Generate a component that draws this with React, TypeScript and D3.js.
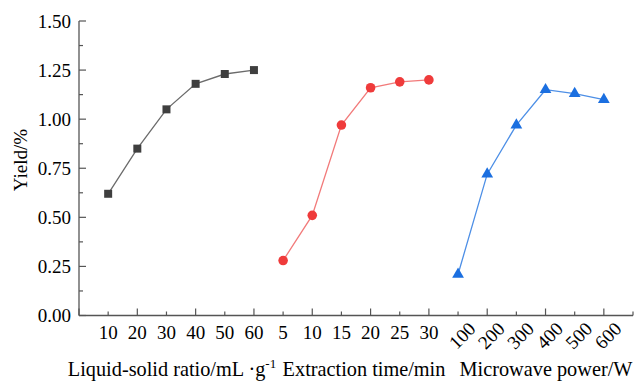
import React, { useEffect, useRef } from 'react';
import * as d3 from 'd3';

// categorias dos três grupos
const ratioLabels = ['10', '20', '30', '40', '50', '60'];
const timeLabels = ['5', '10', '15', '20', '25', '30'];
const powerLabels = ['100', '200', '300', '400', '500', '600'];

// rendimento (%)
const ratioYield = [0.62, 0.85, 1.05, 1.18, 1.23, 1.25];
const timeYield = [0.28, 0.51, 0.97, 1.16, 1.19, 1.2];
const powerYield = [0.21, 0.72, 0.97, 1.15, 1.13, 1.1];

const yTicks = [0, 0.25, 0.5, 0.75, 1.0, 1.25, 1.5];

const axisTitles = ['Liquid-solid ratio/mL \u00b7g', 'Extraction time/min', 'Microwave power/W'];

const App = () => {
  const svgRef = useRef<SVGSVGElement>(null);

  useEffect(() => {
    if (!svgRef.current) return;
    const svg = d3.select(svgRef.current);
    svg.selectAll('*').remove();

    const font = '"Liberation Serif", "Times New Roman", serif';

    const x = d3.scaleLinear().domain([0, 19]).range([79, 633]);
    const y = d3.scaleLinear().domain([0, 1.5]).range([315.5, 21]);

    const axisColor = '#555';

    // eixo Y
    svg.append('line')
      .attr('x1', x(0)).attr('x2', x(0))
      .attr('y1', y(0)).attr('y2', y(1.5))
      .attr('stroke', axisColor).attr('stroke-width', 1.3);

    const yMinor = d3.range(0, 1.5001, 0.125);
    svg.selectAll('.ytick')
      .data(yMinor)
      .enter().append('line')
      .attr('x1', x(0))
      .attr('x2', (d, i) => x(0) + (i % 2 === 0 ? 7 : 4))
      .attr('y1', d => y(d)).attr('y2', d => y(d))
      .attr('stroke', axisColor).attr('stroke-width', 1.2);

    svg.selectAll('.ylab')
      .data(yTicks)
      .enter().append('text')
      .attr('x', x(0) - 8)
      .attr('y', d => y(d))
      .attr('dy', '0.35em')
      .attr('text-anchor', 'end')
      .attr('font-family', font)
      .attr('font-size', 19)
      .text(d => d.toFixed(2));

    svg.append('text')
      .attr('transform', `translate(27,160) rotate(-90)`)
      .attr('text-anchor', 'middle')
      .attr('font-family', font)
      .attr('font-size', 19)
      .text('Yield/%');

    // eixo X
    svg.append('line')
      .attr('x1', x(0)).attr('x2', x(19))
      .attr('y1', y(0)).attr('y2', y(0))
      .attr('stroke', axisColor).attr('stroke-width', 1.3);

    svg.selectAll('.xtick')
      .data(d3.range(0, 20))
      .enter().append('line')
      .attr('x1', d => x(d)).attr('x2', d => x(d))
      .attr('y1', y(0))
      .attr('y2', d => y(0) - (d % 2 === 0 ? 7 : 4))
      .attr('stroke', axisColor).attr('stroke-width', 1.2);

    const groups = [
      { labels: ratioLabels, values: ratioYield, offset: 1, line: '#6b6b6b', fill: '#3f3f3f', shape: d3.symbolSquare, size: 64, rotate: false },
      { labels: timeLabels, values: timeYield, offset: 7, line: '#f27a7a', fill: '#ef3b3b', shape: d3.symbolCircle, size: 72, rotate: false },
      { labels: powerLabels, values: powerYield, offset: 13, line: '#4d8fe6', fill: '#1b6fe0', shape: d3.symbolTriangle, size: 60, rotate: true },
    ];

    groups.forEach((g, gi) => {
      const pts = g.values.map((v, i) => [x(g.offset + i), y(v)] as [number, number]);

      svg.append('path')
        .datum(pts)
        .attr('fill', 'none')
        .attr('stroke', g.line)
        .attr('stroke-width', 1.3)
        .attr('d', d3.line());

      svg.selectAll(`.m${gi}`)
        .data(pts)
        .enter().append('path')
        .attr('transform', d => `translate(${d[0]},${d[1]})`)
        .attr('d', d3.symbol().type(g.shape).size(g.size)())
        .attr('fill', g.fill);

      g.labels.forEach((lab, i) => {
        const px = x(g.offset + i);
        if (g.rotate) {
          svg.append('text')
            .attr('transform', `translate(${px + 4},${y(0) + 20}) rotate(-45)`)
            .attr('text-anchor', 'middle')
            .attr('dy', '0.35em')
            .attr('font-family', font)
            .attr('font-size', 19)
            .text(lab);
        } else {
          svg.append('text')
            .attr('x', px)
            .attr('y', y(0) + 23)
            .attr('text-anchor', 'middle')
            .attr('font-family', font)
            .attr('font-size', 19)
            .text(lab);
        }
      });
    });

    // títulos dos eixos X
    const centers = [172, 364, 546];
    axisTitles.forEach((t, i) => {
      const txt = svg.append('text')
        .attr('x', centers[i])
        .attr('y', 376)
        .attr('text-anchor', 'middle')
        .attr('font-family', font)
        .attr('font-size', 20.3)
        .text(t);
      if (i === 0) {
        txt.append('tspan')
          .attr('dy', -8)
          .attr('font-size', 13)
          .text('-1');
      }
    });
  }, []);

  return (
    <div style={{ position: 'absolute', left: 0, top: 0 }}>
      <svg ref={svgRef} width={635} height={381} style={{ display: 'block', background: '#fff' }}></svg>
    </div>
  );
};

export default App;
